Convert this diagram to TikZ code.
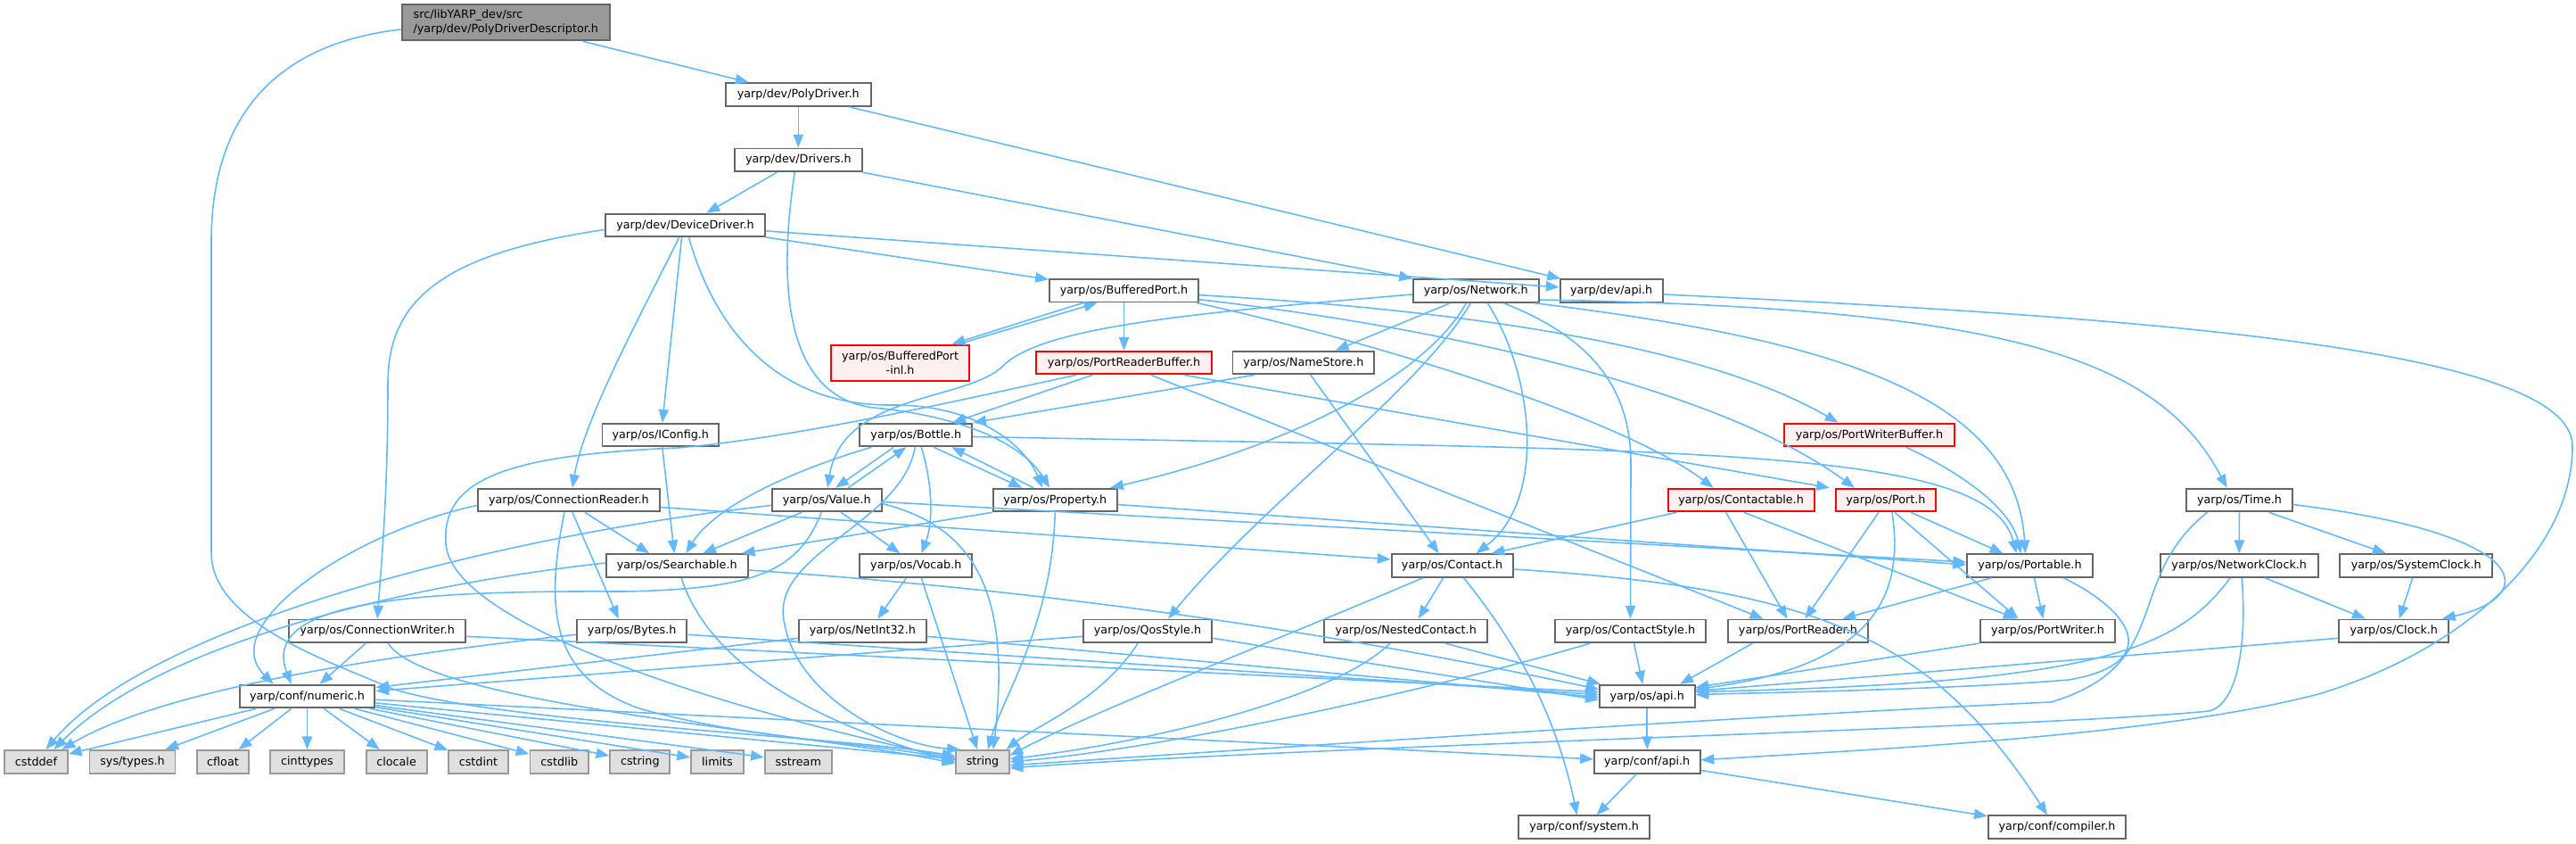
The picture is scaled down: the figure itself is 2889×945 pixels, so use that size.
\documentclass[tikz,border=0pt]{standalone}
\usepackage{fontspec}
\newfontfamily\dv{DejaVu Sans}
\usetikzlibrary{arrows.meta,calc}
\definecolor{eblue}{HTML}{63B8FF}
\definecolor{nborder}{HTML}{666666}
\definecolor{sysfill}{HTML}{E0E0E0}
\definecolor{sysborder}{HTML}{999999}
\definecolor{redfill}{HTML}{FFF0F0}
\definecolor{rootfill}{HTML}{999999}
\begin{document}
\begin{tikzpicture}[x=0.01cm,y=-0.01cm,
  nbox/.style={draw=nborder, fill=white, line width=0.55pt, inner sep=0pt, minimum height=0.256cm, font={\dv\fontsize{3.62}{4.3}\selectfont}, text=black},
  sbox/.style={nbox, draw=sysborder, fill=sysfill},
  rbox/.style={nbox, draw=red, fill=redfill},
  rootbox/.style={nbox, fill=rootfill, minimum height=0.406cm, align=left},
  dep/.style={draw=eblue, line width=0.45pt, -{Triangle[length=4.2pt,width=3.2pt]}}]
\useasboundingbox (0,0) rectangle (2889,945);
% nodes
\node[rootbox, minimum width=2.332cm] (pdd) at (567.3,25) {src/libYARP\_dev/src\\/yarp/dev/PolyDriverDescriptor.h};
\node[nbox, minimum width=1.625cm] (polydrv) at (895.3,106) {yarp/dev/PolyDriver.h};
\node[nbox, minimum width=1.43cm] (drivers) at (895.3,179.3) {yarp/dev/Drivers.h};
\node[nbox, minimum width=1.795cm] (devdrv) at (768.5,252.5) {yarp/dev/DeviceDriver.h};
\node[nbox, minimum width=1.67cm] (bufport) at (1260.5,325.7) {yarp/os/BufferedPort.h};
\node[nbox, minimum width=1.41cm] (network) at (1655.3,326) {yarp/os/Network.h};
\node[nbox, minimum width=1.15cm] (devapi) at (1807.1,326) {yarp/dev/api.h};
\node[rbox, minimum width=1.546cm, minimum height=0.40cm, align=center] (bufinl) at (1009.6,406.7) {yarp/os/BufferedPort\\-inl.h};
\node[rbox, minimum width=1.965cm] (prbuf) at (1260.5,406.5) {yarp/os/PortReaderBuffer.h};
\node[nbox, minimum width=1.585cm] (namestore) at (1461.8,406.5) {yarp/os/NameStore.h};
\node[nbox, minimum width=1.306cm] (iconfig) at (740.8,487.5) {yarp/os/IConfig.h};
\node[nbox, minimum width=1.257cm] (bottle) at (1027.3,487.5) {yarp/os/Bottle.h};
\node[rbox, minimum width=1.91cm] (pwbuf) at (2096.5,487.5) {yarp/os/PortWriterBuffer.h};
\node[nbox, minimum width=2.042cm] (connreader) at (637.9,560.5) {yarp/os/ConnectionReader.h};
\node[nbox, minimum width=1.229cm] (value) at (927.2,560.5) {yarp/os/Value.h};
\node[nbox, minimum width=1.387cm] (property) at (1183.2,560.5) {yarp/os/Property.h};
\node[rbox, minimum width=1.638cm] (contactable) at (1952.6,560.5) {yarp/os/Contactable.h};
\node[rbox, minimum width=1.122cm] (port) at (2114.9,560.5) {yarp/os/Port.h};
\node[nbox, minimum width=1.183cm] (time) at (2511.5,560.5) {yarp/os/Time.h};
\node[nbox, minimum width=1.59cm] (searchable) at (759.2,634) {yarp/os/Searchable.h};
\node[nbox, minimum width=1.257cm] (vocab) at (1027.3,634) {yarp/os/Vocab.h};
\node[nbox, minimum width=1.36cm] (contact) at (1628.6,634) {yarp/os/Contact.h};
\node[nbox, minimum width=1.404cm] (portable) at (2276.4,634) {yarp/os/Portable.h};
\node[nbox, minimum width=1.771cm] (netclock) at (2511.2,634) {yarp/os/NetworkClock.h};
\node[nbox, minimum width=1.706cm] (sysclock) at (2709.7,634) {yarp/os/SystemClock.h};
\node[nbox, minimum width=1.983cm] (connwriter) at (423.2,707.3) {yarp/os/ConnectionWriter.h};
\node[nbox, minimum width=1.233cm] (bytes) at (708.7,707.3) {yarp/os/Bytes.h};
\node[nbox, minimum width=1.425cm] (netint32) at (967.3,707.3) {yarp/os/NetInt32.h};
\node[nbox, minimum width=1.443cm] (qosstyle) at (1287,707.3) {yarp/os/QosStyle.h};
\node[nbox, minimum width=1.83cm] (nested) at (1576.7,707.3) {yarp/os/NestedContact.h};
\node[nbox, minimum width=1.69cm] (contactstyle) at (1828.5,707.3) {yarp/os/ContactStyle.h};
\node[nbox, minimum width=1.573cm] (portreader) at (2016.4,707.3) {yarp/os/PortReader.h};
\node[nbox, minimum width=1.515cm] (portwriter) at (2296.5,707.3) {yarp/os/PortWriter.h};
\node[nbox, minimum width=1.228cm] (clock) at (2684.8,707.3) {yarp/os/Clock.h};
\node[nbox, minimum width=1.518cm] (numeric) at (344.5,780.5) {yarp/conf/numeric.h};
\node[nbox, minimum width=1.066cm] (osapi) at (1847.2,780.5) {yarp/os/api.h};
\node[sbox, minimum width=0.708cm] (cstddef) at (40.5,853.8) {cstddef};
\node[sbox, minimum width=0.959cm] (systypes) at (148.5,853.8) {sys/types.h};
\node[sbox, minimum width=0.586cm] (cfloat) at (250,853.8) {cfloat};
\node[sbox, minimum width=0.83cm] (cinttypes) at (344.5,853.8) {cinttypes};
\node[sbox, minimum width=0.68cm] (clocale) at (444.6,853.8) {clocale};
\node[sbox, minimum width=0.665cm] (cstdint) at (536.5,853.8) {cstdint};
\node[sbox, minimum width=0.656cm] (cstdlib) at (627.3,853.8) {cstdlib};
\node[sbox, minimum width=0.668cm] (cstring) at (717.8,853.8) {cstring};
\node[sbox, minimum width=0.591cm] (limits) at (804.5,853.8) {limits};
\node[sbox, minimum width=0.75cm] (sstream) at (895.3,853.8) {sstream};
\node[sbox, minimum width=0.592cm] (string) at (1102,853.8) {string};
\node[nbox, minimum width=1.187cm] (confapi) at (1847.2,853.8) {yarp/conf/api.h};
\node[nbox, minimum width=1.472cm] (system) at (1776.6,927.2) {yarp/conf/system.h};
\node[nbox, minimum width=1.545cm] (compiler) at (2307,927.2) {yarp/conf/compiler.h};
% edges: top part
\draw[dep] (pdd) -- (polydrv);
\draw[dep] ($(pdd.west)+(0,8)$) .. controls (300,50) and (237,140) .. (237,270) -- (237,620) .. controls (237,700) and (380,745) .. (440,772) .. controls (560,810) and (950,826) .. ($(string.west)+(0,-6)$);
\draw[dep] (polydrv) -- (drivers);
\draw[dep] (polydrv) -- (devapi);
\draw[dep] (drivers) -- (devdrv);
\draw[dep] (drivers) -- (network);
\draw[dep] ($(drivers.south)+(-4,0)$) .. controls (872,320) and (880,445) .. (980,457) .. controls (1075,466) and (1145,495) .. ($(property.north)+(-6,0)$);
\draw[dep] (devdrv) -- (devapi);
\draw[dep] (devdrv) -- (bufport);
\draw[dep] ($(devdrv.south)+(-4,0)$) -- ($(iconfig.north)+(2,0)$);
\draw[dep] ($(devdrv.south)+(-7,0)$) .. controls (715,360) and (655,470) .. ($(connreader.north)+(4,0)$);
\draw[dep] ($(devdrv.west)+(0,5)$) .. controls (490,285) and (435,340) .. (435,430) .. controls (435,560) and (427,640) .. (connwriter.north);
\draw[dep] ($(devdrv.south)+(4,0)$) .. controls (805,380) and (880,455) .. (1000,454) .. controls (1095,453) and (1150,500) .. ($(property.north)+(-14,0)$);
\draw[dep] (bufport) -- (prbuf);
\draw[dep] ($(bufport.south)+(-46,0)$) -- ($(bufinl.north)+(58,0)$);
\draw[dep] ($(bufinl.north)+(65,0)$) -- ($(bufport.south)+(-30,0)$);
\draw[dep] ($(bufport.east)+(0,5)$) .. controls (1600,345) and (1900,380) .. ($(pwbuf.north)+(-35,0)$);
\draw[dep] ($(bufport.east)+(0,10)$) .. controls (1600,365) and (1920,430) .. ($(port.north)+(-35,0)$);
\draw[dep] ($(bufport.south east)+(-3,0)$) .. controls (1550,385) and (1820,470) .. ($(contactable.north)+(-31,0)$);
% network
\draw[dep] ($(network.west)+(0,4)$) .. controls (1350,350) and (1170,365) .. (1125,410) .. controls (1085,450) and (945,440) .. ($(value.north)+(1,0)$);
\draw[dep] ($(network.south)+(-29,0)$) -- ($(namestore.north)+(36,0)$);
\draw[dep] ($(network.south)+(-11,0)$) .. controls (1600,420) and (1450,500) .. ($(property.north)+(62,0)$);
\draw[dep] ($(network.south)+(-6,0)$) .. controls (1590,440) and (1420,560) .. ($(qosstyle.north)+(23,0)$);
\draw[dep] ($(network.south)+(13,0)$) .. controls (1720,420) and (1735,560) .. ($(contact.north)+(27,0)$);
\draw[dep] ($(network.south)+(31,0)$) .. controls (1790,380) and (1829,440) .. (1829,520) -- (contactstyle.north);
\draw[dep] ($(network.south)+(66,0)$) .. controls (2050,380) and (2260,440) .. ($(portable.north)+(-5,0)$);
\draw[dep] ($(network.east)+(0,10)$) .. controls (2250,345) and (2420,400) .. ($(time.north)+(-14,0)$);
% namestore, port reader buffer
\draw[dep] ($(namestore.south)+(-55,0)$) -- (bottle.north east);
\draw[dep] ($(namestore.south)+(8,0)$) -- ($(contact.north)+(-15,0)$);
\draw[dep] ($(prbuf.south)+(-35,0)$) -- ($(bottle.north)+(41,0)$);
\draw[dep] ($(prbuf.south)+(-53,0)$) .. controls (1100,443) and (900,490) .. (760,502) .. controls (560,510) and (495,540) .. (500,610) .. controls (510,720) and (940,824) .. ($(string.west)+(0,-4)$);
\draw[dep] ($(prbuf.south)+(67,0)$) -- ($(port.north)+(-63,0)$);
\draw[dep] ($(prbuf.south)+(30,0)$) -- ($(portreader.north)+(-39,0)$);
\draw[dep] ($(pwbuf.south)+(41,0)$) .. controls (2200,530) and (2255,570) .. ($(portable.north)+(-10,0)$);
\draw[dep] ($(iconfig.south)+(2,0)$) -- ($(searchable.north)+(-3,0)$);
% bottle
\draw[dep] ($(bottle.south)+(-50,0)$) .. controls (880,530) and (800,570) .. ($(searchable.north)+(10,0)$);
\draw[dep] ($(bottle.south)+(-25,0)$) -- ($(value.north)+(10,0)$);
\draw[dep] ($(value.north)+(24,0)$) -- ($(bottle.south)+(-11,0)$);
\draw[dep] ($(bottle.south)+(20,0)$) -- ($(property.north)+(-37,0)$);
\draw[dep] ($(property.north)+(-24,0)$) -- ($(bottle.south)+(40,0)$);
\draw[dep] ($(bottle.south)+(-1,0)$) .. controls (1010,590) and (860,620) .. (880,700) .. controls (895,780) and (1000,835) .. ($(string.north)+(-25,0)$);
\draw[dep] ($(bottle.south)+(6,0)$) .. controls (1048,550) and (1045,590) .. ($(vocab.north)+(6,0)$);
\draw[dep] ($(bottle.east)+(0,2)$) .. controls (1900,505) and (2230,500) .. ($(portable.north)+(-15,0)$);
% value
\draw[dep] ($(value.south)+(-28,0)$) -- ($(searchable.north)+(29,0)$);
\draw[dep] ($(value.south)+(16,0)$) -- ($(vocab.north)+(-18,0)$);
\draw[dep] ($(value.south)+(-6,0)$) .. controls (895,640) and (850,660) .. (700,663) .. controls (480,662) and (290,670) .. ($(numeric.north)+(-18,0)$);
\draw[dep] ($(value.east)+(0,4)$) .. controls (1090,590) and (1135,660) .. ($(string.north)+(12,0)$);
\draw[dep] ($(value.west)+(0,6)$) .. controls (560,600) and (170,700) .. ($(cstddef.north)+(11,0)$);
\draw[dep] ($(value.east)+(0,2)$) -- ($(portable.west)+(0,-4)$);
% property
\draw[dep] (property.south west) -- ($(searchable.north east)+(-8,0)$);
\draw[dep] (property.south) .. controls (1180,700) and (1125,780) .. ($(string.north)+(6,0)$);
\draw[dep] ($(property.east)+(0,5)$) -- ($(portable.west)+(0,-1)$);
% connection reader
\draw[dep] ($(connreader.west)+(0,6)$) .. controls (400,595) and (240,700) .. ($(numeric.north)+(-38,0)$);
\draw[dep] ($(connreader.south)+(-5,0)$) .. controls (612,680) and (615,760) .. (720,795) .. controls (850,830) and (960,830) .. ($(string.west)+(0,-2)$);
\draw[dep] ($(connreader.south)+(4,0)$) -- ($(bytes.north)+(-15,0)$);
\draw[dep] ($(connreader.south)+(18,0)$) -- ($(searchable.north)+(-31,0)$);
\draw[dep] ($(connreader.east)+(0,8)$) -- ($(contact.west)+(0,-7)$);
% searchable
\draw[dep] ($(searchable.south)+(5,0)$) .. controls (800,760) and (950,820) .. (string.west);
\draw[dep] ($(searchable.east)+(0,5)$) .. controls (1150,660) and (1450,700) .. ($(osapi.west)+(0,-8)$);
\draw[dep] ($(searchable.west)+(0,-3)$) .. controls (420,660) and (170,730) .. ($(cstddef.north)+(20,0)$);
% vocab
\draw[dep] ($(vocab.south)+(-11,0)$) -- ($(netint32.north)+(17,0)$);
\draw[dep] ($(vocab.south)+(6,0)$) -- ($(string.north)+(-6,0)$);
% connection writer
\draw[dep] ($(connwriter.south)+(-13,0)$) -- ($(numeric.north)+(14,0)$);
\draw[dep] ($(connwriter.south)+(12,0)$) .. controls (480,790) and (900,820) .. ($(string.west)+(0,2)$);
\draw[dep] ($(connwriter.east)+(0,6)$) -- ($(osapi.west)+(0,-5)$);
% bytes, netint32, qos
\draw[dep] ($(bytes.west)+(0,4)$) .. controls (380,740) and (170,780) .. ($(cstddef.north)+(29,0)$);
\draw[dep] ($(bytes.east)+(0,4)$) -- ($(osapi.west)+(0,-2)$);
\draw[dep] ($(netint32.west)+(0,8)$) -- ($(numeric.east)+(0,-10)$);
\draw[dep] ($(netint32.east)+(0,6)$) -- ($(osapi.west)+(0,1)$);
\draw[dep] ($(qosstyle.west)+(0,6)$) -- ($(numeric.east)+(0,-6)$);
\draw[dep] ($(qosstyle.south)+(-11,0)$) .. controls (1235,785) and (1160,815) .. ($(string.north east)+(-4,0)$);
\draw[dep] ($(qosstyle.east)+(0,8)$) -- ($(osapi.west)+(0,4)$);
% contact
\draw[dep] ($(contact.south)+(-10,0)$) -- ($(nested.north)+(14,0)$);
\draw[dep] ($(contact.south)+(-33,0)$) .. controls (1450,710) and (1220,800) .. ($(string.east)+(0,-7)$);
\draw[dep] ($(contact.south)+(13,0)$) .. controls (1700,720) and (1745,800) .. ($(system.north)+(-8,0)$);
\draw[dep] ($(contact.east)+(0,4)$) .. controls (2050,660) and (2170,720) .. ($(compiler.north)+(-11,0)$);
\draw[dep] ($(nested.south)+(-18,0)$) .. controls (1500,780) and (1300,830) .. ($(string.east)+(0,-3)$);
\draw[dep] ($(nested.south)+(44,0)$) -- ($(osapi.north west)+(2,0)$);
\draw[dep] ($(contactstyle.south)+(-45,0)$) .. controls (1600,775) and (1300,840) .. (string.east);
\draw[dep] ($(contactstyle.south)+(4,0)$) -- ($(osapi.north)+(-5,0)$);
% contactable, port
\draw[dep] ($(contactable.south)+(-72,0)$) -- ($(contact.north)+(44,0)$);
\draw[dep] ($(contactable.south)+(-17,0)$) -- ($(portreader.north)+(-12,0)$);
\draw[dep] ($(contactable.south)+(3,0)$) -- ($(portwriter.north)+(-35,0)$);
\draw[dep] ($(port.south)+(-8,0)$) -- ($(portreader.north)+(8,0)$);
\draw[dep] ($(port.south)+(10,0)$) -- ($(portwriter.north)+(-33,0)$);
\draw[dep] ($(port.south)+(28,0)$) -- ($(portable.north)+(-30,0)$);
\draw[dep] ($(port.south)+(7,0)$) .. controls (2135,660) and (2110,745) .. ($(osapi.east)+(0,-8)$);
% portable, reader, writer
\draw[dep] ($(portable.south)+(-43,0)$) -- ($(portreader.north)+(50,0)$);
\draw[dep] ($(portable.south)+(5,0)$) -- ($(portwriter.north)+(-5,0)$);
\draw[dep] ($(portable.south)+(38,0)$) .. controls (2400,690) and (2420,745) .. (2320,762) .. controls (2200,772) and (2000,776) .. ($(osapi.east)+(0,-2)$);
\draw[dep] ($(portreader.south)+(-51,0)$) -- ($(osapi.north)+(37,0)$);
\draw[dep] (portwriter.south west) -- ($(osapi.east)+(0,-10)$);
% time and clocks
\draw[dep] (time) -- (netclock);
\draw[dep] ($(time.south)+(33,0)$) -- ($(sysclock.north)+(-34,0)$);
\draw[dep] ($(time.east)+(0,5)$) .. controls (2850,600) and (2845,670) .. ($(clock.north)+(54,0)$);
\draw[dep] ($(time.south)+(-36,0)$) .. controls (2380,650) and (2440,745) .. (2300,787) .. controls (2000,800) and (1400,840) .. ($(string.east)+(0,4)$);
\draw[dep] ($(netclock.south)+(29,0)$) -- ($(clock.north)+(-32,0)$);
\draw[dep] ($(netclock.south)+(-10,0)$) .. controls (2440,730) and (2350,765) .. ($(osapi.east)+(0,-5)$);
\draw[dep] ($(netclock.south)+(3,0)$) .. controls (2520,720) and (2510,790) .. (2477,797) .. controls (2300,815) and (1500,835) .. ($(string.east)+(0,7)$);
\draw[dep] ($(sysclock.south)+(-4,0)$) -- ($(clock.north)+(6,0)$);
\draw[dep] ($(clock.west)+(0,8)$) -- ($(osapi.east)+(0,-6)$);
% bottom
\draw[dep] (osapi) -- (confapi);
\draw[dep] ($(confapi.south)+(-12,0)$) -- ($(system.north)+(14,0)$);
\draw[dep] (confapi) -- (compiler);
\draw[dep] ($(devapi.east)+(0,4)$) .. controls (2400,355) and (2885,390) .. (2885,500) .. controls (2885,620) and (2760,730) .. (2600,778) .. controls (2420,825) and (2100,840) .. ($(confapi.east)+(0,-2)$);
\foreach \tg in {cstddef,systypes,cfloat,cinttypes,clocale,cstdint,cstdlib,cstring,limits,sstream,string,confapi}
  \draw[dep] (numeric) -- (\tg);
\end{tikzpicture}
\end{document}
